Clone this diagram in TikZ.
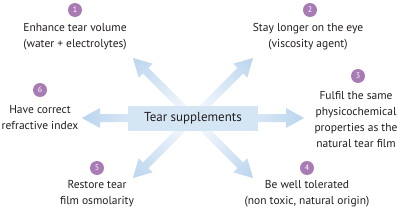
\documentclass[tikz,border=0pt]{standalone}
\usepackage{fontspec}
\setmainfont{PT Sans}
\usetikzlibrary{calc,backgrounds}
\definecolor{txt}{HTML}{231F20}
\definecolor{purp}{HTML}{A97BB5}
\definecolor{arrblue}{HTML}{BBD5EE}
\definecolor{boxblue}{HTML}{D4E5F4}
\tikzset{
  lbl/.style={align=center, font=\fontsize{11.5}{16}\selectfont, text=txt, inner sep=0pt},
  num/.style={circle, fill=purp, text=white, minimum size=14pt, inner sep=0pt, font=\fontsize{8}{8}\selectfont},
  mainbox/.style={fill=boxblue, minimum width=130pt, minimum height=25pt, inner sep=0pt, font=\fontsize{13}{14}\selectfont, text=txt},
  fatshade/.style={left color=arrblue!5, right color=arrblue},
}
\newcommand\fatarrow[2]{%
  \path let \p1=($(#2)-(#1)$) in \pgfextra{%
    \pgfmathsetmacro\tmpa{atan2(\y1,\x1)}\xdef\faAng{\tmpa}%
    \pgfmathsetmacro\tmpb{veclen(\x1,\y1)}\xdef\faLen{\tmpb}};
  \begin{scope}[transform canvas={shift={(#1)},rotate=\faAng}]
    \shade[fatshade] (0pt,-4pt) -- ({\faLen pt-18pt},-4pt) -- ({\faLen pt-18pt},-10pt)
      -- ({\faLen pt},0pt) -- ({\faLen pt-18pt},10pt) -- ({\faLen pt-18pt},4pt) -- (0pt,4pt) -- cycle;
  \end{scope}}
\begin{document}
\begin{tikzpicture}[x=1pt,y=-1pt]
  \useasboundingbox (0,0) rectangle (400,214);
  \node[mainbox] (ts) at (193,118) {Tear supplements};
  \coordinate (t1) at (133,58);
  \coordinate (t2) at (253,58);
  \coordinate (t3) at (304,118);
  \coordinate (t4) at (253,178);
  \coordinate (t5) at (133,178);
  \coordinate (t6) at (82,118);
  \begin{pgfonlayer}{background}
    \fill[white] (0,0) rectangle (400,214);
    \fatarrow{ts.center}{t1}
    \fatarrow{ts.center}{t2}
    \fatarrow{ts.center}{t3}
    \fatarrow{ts.center}{t4}
    \fatarrow{ts.center}{t5}
    \fatarrow{ts.center}{t6}
  \end{pgfonlayer}
  \node[num] (n1) at (75,10) {1};
  \node[lbl] (l1) at (75,37) {Enhance tear volume\\(water + electrolytes)};
  \node[num] (n2) at (310,10) {2};
  \node[lbl] (l2) at (308,37) {Stay longer on the eye\\(viscosity agent)};
  \node[num] (n3) at (358,76) {3};
  \node[lbl] (l3) at (356,120) {Fulfil the same\\physicochemical\\properties as the\\natural tear film};
  \node[num] (n4) at (307,168) {4};
  \node[lbl] (l4) at (307,194) {Be well tolerated\\(non toxic, natural origin)};
  \node[num] (n5) at (97,168) {5};
  \node[lbl] (l5) at (97,194) {Restore tear\\film osmolarity};
  \node[num] (n6) at (40,90) {6};
  \node[lbl] (l6) at (40,118) {Have correct\\refractive index};
\end{tikzpicture}
\end{document}
